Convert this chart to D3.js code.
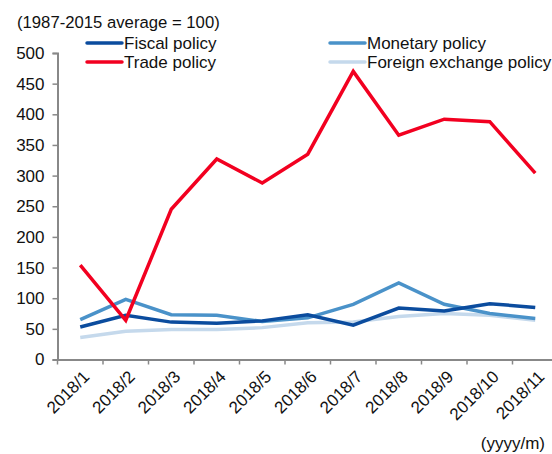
<!DOCTYPE html>
<html>
<head>
<meta charset="utf-8">
<script src="https://cdn.jsdelivr.net/npm/d3@7"></script>
<style>
  body { margin: 0; background: #fff; }
  text { font-family: "Liberation Sans", Arial, sans-serif; fill: #111; }
</style>
</head>
<body>
<script>

// data
var months = ["2018/1", "2018/2", "2018/3", "2018/4", "2018/5", "2018/6",
              "2018/7", "2018/8", "2018/9", "2018/10", "2018/11"];
var fiscal   = [53, 72, 61, 59, 63, 73, 56, 84, 79, 91, 85];
var monetary = [65, 98, 73, 72, 62, 68, 90, 125, 90, 75, 67];
var trade    = [154, 64, 245, 327, 288, 335, 470, 366, 392, 388, 304];
var forex    = [36, 46, 49, 49, 52, 60, 61, 70, 75, 72, 64];
var yTicks   = [0, 50, 100, 150, 200, 250, 300, 350, 400, 450, 500];

var series = [
    { name: "Foreign exchange policy", values: forex,    color: "#c5d9ec" },
    { name: "Monetary policy",         values: monetary, color: "#4a92c9" },
    { name: "Fiscal policy",           values: fiscal,   color: "#0b4c9e" },
    { name: "Trade policy",            values: trade,    color: "#f20020" }
];

var svg = d3.select("body")
    .append("svg")
        .attr("width", 552)
        .attr("height", 454);

var x = d3.scaleBand()
    .domain(months)
    .range([57.5, 558]);

var y = d3.scaleLinear()
    .domain([0, 500])
    .range([359.5, 53]);

// y axis
var yAxis = svg.append("g")
    .attr("transform", "translate(57.5,0)")
    .call(d3.axisLeft(y).tickValues(yTicks).tickSize(5).tickPadding(8));

yAxis.select(".domain").attr("stroke", "#888").attr("stroke-width", 2);
yAxis.selectAll(".tick line").attr("stroke", "#888").attr("stroke-width", 1.5);
yAxis.selectAll(".tick text")
    .style("font-size", "17px")
    .attr("fill", "#111");

// x axis
var xAxis = svg.append("g")
    .attr("transform", "translate(0,359.5)")
    .call(d3.axisBottom(x).tickSizeOuter(0).tickSize(0));

xAxis.select(".domain").attr("stroke", "#888").attr("stroke-width", 2);
xAxis.selectAll(".tick text").remove();

// x tick marks at band boundaries
xAxis.selectAll(".sep")
    .data(months)
    .enter()
    .append("line")
        .attr("x1", function (d) { return x(d); })
        .attr("x2", function (d) { return x(d); })
        .attr("y1", 0)
        .attr("y2", 5)
        .attr("stroke", "#888")
        .attr("stroke-width", 1.5);

xAxis.selectAll(".lbl")
    .data(months)
    .enter()
    .append("text")
        .attr("transform", function (d) {
            return "translate(" + (x(d) + x.bandwidth() / 2 + 6) + ",14) rotate(-45)";
        })
        .attr("text-anchor", "end")
        .attr("dy", "0.35em")
        .style("font-size", "17px")
        .text(function (d) { return d; });

// lines
var line = d3.line()
    .x(function (d, i) { return x(months[i]) + x.bandwidth() / 2; })
    .y(function (d) { return y(d); });

svg.selectAll(".series")
    .data(series)
    .enter()
    .append("path")
        .attr("fill", "none")
        .attr("stroke", function (d) { return d.color; })
        .attr("stroke-width", 3.5)
        .attr("stroke-linejoin", "miter")
        .attr("d", function (d) { return line(d.values); });

// titles
svg.append("text")
    .attr("x", 17)
    .attr("y", 28)
    .style("font-size", "16.7px")
    .text("(1987-2015 average = 100)");

svg.append("text")
    .attr("x", 545)
    .attr("y", 449)
    .attr("text-anchor", "end")
    .style("font-size", "17px")
    .text("(yyyy/m)");

// legend
var legend = [
    { name: "Fiscal policy",           color: "#0b4c9e", lx: 87,  ly: 43 },
    { name: "Trade policy",            color: "#f20020", lx: 87,  ly: 62 },
    { name: "Monetary policy",         color: "#4a92c9", lx: 330, ly: 43 },
    { name: "Foreign exchange policy", color: "#c5d9ec", lx: 330, ly: 62 }
];

var lg = svg.selectAll(".legend")
    .data(legend)
    .enter()
    .append("g");

lg.append("line")
    .attr("x1", function (d) { return d.lx; })
    .attr("x2", function (d) { return d.lx + 35; })
    .attr("y1", function (d) { return d.ly; })
    .attr("y2", function (d) { return d.ly; })
    .attr("stroke", function (d) { return d.color; })
    .attr("stroke-width", 3.5)
    .attr("stroke-linecap", "round");

lg.append("text")
    .attr("x", function (d) { return d.lx + 37; })
    .attr("y", function (d) { return d.ly + 6; })
    .style("font-size", "17px")
    .text(function (d) { return d.name; });

</script>
</body>
</html>
